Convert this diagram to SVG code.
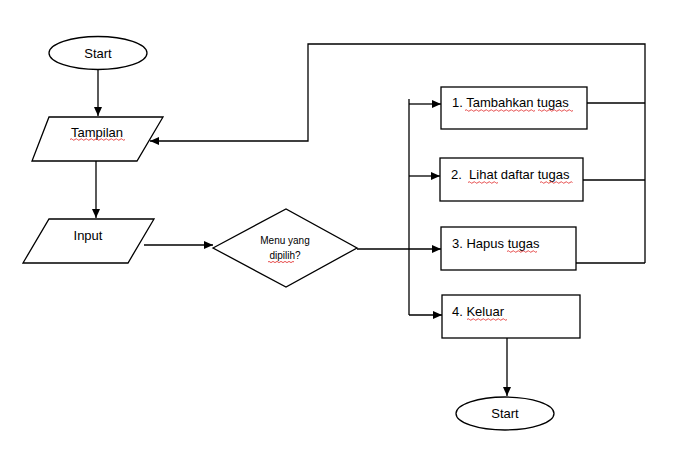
<svg xmlns="http://www.w3.org/2000/svg" width="683" height="455" viewBox="0 0 683 455">
<defs>
<marker id="arr" markerWidth="10" markerHeight="8" refX="9" refY="4" orient="auto" markerUnits="userSpaceOnUse">
<path d="M0,0 L9,4 L0,8 Z" fill="#000"/>
</marker>
<style>
.shape{fill:#fff;stroke:#000;stroke-width:1.3}
.line{fill:none;stroke:#000;stroke-width:1.3}
.t{font-family:"Liberation Sans",Arial,sans-serif;font-size:13px;fill:#000}
.ts{font-family:"Liberation Sans",Arial,sans-serif;font-size:10px;fill:#000}
.sq{fill:none;stroke:#e02020;stroke-width:0.8}
</style>
</defs>
<rect width="683" height="455" fill="#fff"/>

<g id="connectors">
<line class="line" x1="98" y1="70" x2="98" y2="116" marker-end="url(#arr)"/>
<line class="line" x1="96" y1="161" x2="96" y2="218" marker-end="url(#arr)"/>
<line class="line" x1="144" y1="245" x2="213" y2="245" marker-end="url(#arr)"/>
<line class="line" x1="357" y1="249" x2="441" y2="249" marker-end="url(#arr)"/>
<line class="line" x1="409" y1="99" x2="409" y2="315"/>
<line class="line" x1="409" y1="104" x2="441" y2="104" marker-end="url(#arr)"/>
<line class="line" x1="409" y1="176" x2="440" y2="176" marker-end="url(#arr)"/>
<polyline class="line" points="409,315 442,315" marker-end="url(#arr)"/>
<line class="line" x1="507" y1="338" x2="507" y2="396" marker-end="url(#arr)"/>
<line class="line" x1="587" y1="103" x2="645" y2="103"/>
<line class="line" x1="583" y1="180" x2="645" y2="180"/>
<line class="line" x1="576" y1="263" x2="645" y2="263"/>
<polyline class="line" points="645,263 645,44 308,44 308,141 150,141" marker-end="url(#arr)"/>
</g>

<g id="start">
<ellipse class="shape" cx="98" cy="53" rx="49" ry="16.5"/>
<text class="t" x="98" y="58" text-anchor="middle">Start</text>
</g>

<g id="tampilan">
<polygon class="shape" points="49,117 163,117 137,161 32,161"/>
<text class="t" x="97" y="137" text-anchor="middle">Tampilan</text>
<path class="sq" d="M70,139.5 q1.25,-1.5 2.5,0 t2.5,0 t2.5,0 t2.5,0 t2.5,0 t2.5,0 t2.5,0 t2.5,0 t2.5,0 t2.5,0 t2.5,0 t2.5,0 t2.5,0 t2.5,0 t2.5,0 t2.5,0 t2.5,0 t2.5,0 t2.5,0 t2.5,0 t2.5,0 t2.5,0"/>
</g>

<g id="input">
<polygon class="shape" points="49,219 154,219 128,263 23,263"/>
<text class="t" x="88" y="240" text-anchor="middle">Input</text>
</g>

<g id="decision">
<polygon class="shape" points="213,248 286,209 357,248 286,287"/>
<text class="ts" x="285" y="244" text-anchor="middle">Menu yang</text>
<text class="ts" x="285" y="259" text-anchor="middle">dipilih?</text>
<path class="sq" d="M268,262 q1,-1.2 2,0 t2,0 t2,0 t2,0 t2,0 t2,0 t2,0 t2,0 t2,0 t2,0 t2,0 t2,0 t2,0"/>
</g>

<g id="opt1">
<rect class="shape" x="441" y="87" width="146" height="42"/>
<text class="t" x="452" y="107">1. Tambahkan tugas</text>
<path class="sq" d="M465,110.5 q1.25,-1.5 2.5,0 t2.5,0 t2.5,0 t2.5,0 t2.5,0 t2.5,0 t2.5,0 t2.5,0 t2.5,0 t2.5,0 t2.5,0 t2.5,0 t2.5,0 t2.5,0 t2.5,0 t2.5,0 t2.5,0 t2.5,0 t2.5,0 t2.5,0 t2.5,0 t2.5,0 t2.5,0 t2.5,0 t2.5,0 t2.5,0 t2.5,0 t2.5,0"/>
<path class="sq" d="M538,110.5 q1.25,-1.5 2.5,0 t2.5,0 t2.5,0 t2.5,0 t2.5,0 t2.5,0 t2.5,0 t2.5,0 t2.5,0 t2.5,0 t2.5,0 t2.5,0 t2.5,0 t2.5,0"/>
</g>

<g id="opt2">
<rect class="shape" x="440" y="158" width="143" height="43"/>
<text class="t" x="451" y="179" xml:space="preserve">2.  Lihat daftar tugas</text>
<path class="sq" d="M468,182.5 q1.25,-1.5 2.5,0 t2.5,0 t2.5,0 t2.5,0 t2.5,0 t2.5,0 t2.5,0 t2.5,0 t2.5,0 t2.5,0 t2.5,0 t2.5,0"/>
<path class="sq" d="M540,182.5 q1.25,-1.5 2.5,0 t2.5,0 t2.5,0 t2.5,0 t2.5,0 t2.5,0 t2.5,0 t2.5,0 t2.5,0 t2.5,0 t2.5,0 t2.5,0 t2.5,0"/>
</g>

<g id="opt3">
<rect class="shape" x="441" y="227" width="135" height="43"/>
<text class="t" x="452" y="248">3. Hapus tugas</text>
<path class="sq" d="M507,251.5 q1.25,-1.5 2.5,0 t2.5,0 t2.5,0 t2.5,0 t2.5,0 t2.5,0 t2.5,0 t2.5,0 t2.5,0 t2.5,0 t2.5,0 t2.5,0"/>
</g>

<g id="opt4">
<rect class="shape" x="442" y="295" width="138" height="43"/>
<text class="t" x="452" y="316">4. Keluar</text>
<path class="sq" d="M467,319.5 q1.25,-1.5 2.5,0 t2.5,0 t2.5,0 t2.5,0 t2.5,0 t2.5,0 t2.5,0 t2.5,0 t2.5,0 t2.5,0 t2.5,0 t2.5,0 t2.5,0 t2.5,0 t2.5,0 t2.5,0"/>
</g>

<g id="end">
<ellipse class="shape" cx="505" cy="413.5" rx="49" ry="16.5"/>
<text class="t" x="505" y="418" text-anchor="middle">Start</text>
</g>
</svg>
